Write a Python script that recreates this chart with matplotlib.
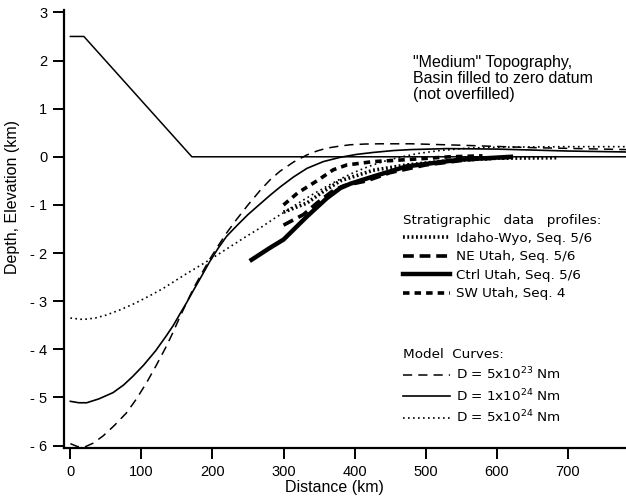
"""Flexural basin profiles vs. stratigraphic data."""

import matplotlib.pyplot as plt

# topography load (km)
topo_x = [0, 19, 171, 782]
topo_y = [2.5, 2.5, 0.0, 0.0]

# model deflection curves (distance km, depth km)
d5e23_x = [0, 10, 20, 32, 46, 62, 79, 93, 107, 121, 135, 145, 154, 164, 173,
           185, 196, 208, 220, 234, 250, 267, 281, 295, 314, 333, 347, 361,
           378, 394, 415, 436, 480, 550, 650, 782]
d5e23_y = [-5.96, -6.02, -6.03, -5.95, -5.8, -5.58, -5.32, -5.03, -4.7, -4.33,
           -3.94, -3.63, -3.33, -3.02, -2.74, -2.42, -2.13, -1.85, -1.58,
           -1.3, -1.0, -0.7, -0.48, -0.3, -0.11, 0.04, 0.12, 0.18, 0.22, 0.25,
           0.265, 0.27, 0.27, 0.24, 0.19, 0.15]

d1e24_x = [0, 12, 23, 40, 60, 75, 88, 103, 120, 135, 145, 154, 164, 173, 185,
           196, 208, 220, 235, 250, 267, 281, 295, 314, 333, 356, 380, 403,
           426, 455, 480, 530, 600, 700, 782]
d1e24_y = [-5.08, -5.11, -5.11, -5.03, -4.9, -4.74, -4.56, -4.33, -4.03,
           -3.72, -3.5, -3.27, -3.02, -2.78, -2.47, -2.18, -1.9, -1.65, -1.42,
           -1.2, -0.98, -0.8, -0.63, -0.42, -0.24, -0.1, -0.01, 0.05, 0.09,
           0.13, 0.15, 0.17, 0.16, 0.12, 0.1]

d5e24_x = [0, 18, 35, 50, 70, 90, 110, 130, 145, 160, 178, 196, 213, 230, 248,
           267, 285, 300, 320, 340, 360, 380, 400, 420, 440, 460, 490, 520,
           560, 600, 700, 782]
d5e24_y = [-3.35, -3.38, -3.35, -3.29, -3.18, -3.05, -2.9, -2.74, -2.6, -2.46,
           -2.3, -2.14, -1.98, -1.82, -1.65, -1.48, -1.3, -1.16, -0.97, -0.79,
           -0.62, -0.46, -0.32, -0.2, -0.1, -0.02, 0.07, 0.13, 0.18, 0.2, 0.21,
           0.21]

# stratigraphic data profiles
idaho_x = [300, 333, 356, 380, 426, 473, 534, 600, 685]
idaho_y = [-1.15, -0.96, -0.72, -0.5, -0.28, -0.17, -0.08, -0.03, -0.02]

ne_x = [300, 328, 347, 370, 385, 398, 417, 450, 500, 560, 620]
ne_y = [-1.42, -1.2, -0.96, -0.7, -0.6, -0.56, -0.5, -0.33, -0.17, -0.06,
        -0.01]

ctrl_x = [255, 280, 300, 333, 361, 380, 394, 426, 473, 548, 620]
ctrl_y = [-2.14, -1.9, -1.72, -1.24, -0.86, -0.65, -0.56, -0.41, -0.2, -0.06,
          0.0]

sw_x = [300, 320, 347, 370, 389, 426, 473, 534, 580]
sw_y = [-1.0, -0.75, -0.5, -0.27, -0.17, -0.1, -0.06, 0.0, 0.02]

x_ticks = [0, 100, 200, 300, 400, 500, 600, 700]
y_ticks = [-6, -5, -4, -3, -2, -1, 0, 1, 2, 3]
y_tick_labels = ["- 6", "- 5", "- 4", "- 3", "- 2", "- 1", "0", "1", "2", "3"]

TICK_FONT = "Liberation Sans"
LEGEND_FONT = "DejaVu Sans"

fig = plt.figure(figsize=(6.26, 4.99), dpi=100)
ax = fig.add_axes((0.1022, 0.1022, 0.8978, 0.8778))

ax.plot(topo_x, topo_y, color="black", lw=1.1)

(m1,) = ax.plot(d5e23_x, d5e23_y, color="black", lw=1.1, ls=(0, (6, 4)),
                label=r"D = 5x10$^{23}$ Nm")
(m2,) = ax.plot(d1e24_x, d1e24_y, color="black", lw=1.2,
                label=r"D = 1x10$^{24}$ Nm")
(m3,) = ax.plot(d5e24_x, d5e24_y, color="black", lw=1.2, ls=(0, (1, 2)),
                label=r"D = 5x10$^{24}$ Nm")

(s1,) = ax.plot(idaho_x, idaho_y, color="black", lw=2.6, ls=(0, (0.5, 0.7)),
                label="Idaho-Wyo, Seq. 5/6")
(s2,) = ax.plot(ne_x, ne_y, color="black", lw=2.6, ls=(0, (3, 1.6)),
                label="NE Utah, Seq. 5/6")
(s3,) = ax.plot(ctrl_x, ctrl_y, color="black", lw=3.2,
                label="Ctrl Utah, Seq. 5/6")
(s4,) = ax.plot(sw_x, sw_y, color="black", lw=2.6, ls=(0, (1.8, 1.4)),
                label="SW Utah, Seq. 4")

ax.set_xlim(-9, 782)
ax.set_ylim(-6.05, 3.05)

for side in ("top", "right"):
    ax.spines[side].set_visible(False)
for side in ("left", "bottom"):
    ax.spines[side].set_linewidth(1.6)

ax.set_xticks(x_ticks)
ax.set_yticks(y_ticks, labels=y_tick_labels)
ax.tick_params(direction="out", length=8, width=1.4, labelsize=10.5, pad=4)
for lab in ax.get_xticklabels() + ax.get_yticklabels():
    lab.set_fontfamily(TICK_FONT)

ax.set_xlabel("Distance (km)", fontsize=11.5, fontfamily=TICK_FONT)
ax.set_ylabel("Depth, Elevation (km)", fontsize=11.5, fontfamily=TICK_FONT)
ax.xaxis.set_label_coords(0.482, -0.072)
ax.yaxis.set_label_coords(-0.078, 0.573)

ax.text(0.621, 0.897,
        "\"Medium\" Topography,\nBasin filled to zero datum\n(not overfilled)",
        transform=ax.transAxes, ha="left", va="top", fontsize=11.5,
        fontfamily=TICK_FONT, linespacing=1.08)

leg_kw = dict(frameon=False, loc="upper left", borderaxespad=0, borderpad=0,
              handlelength=3.5, handletextpad=0.45, alignment="left",
              prop={"family": LEGEND_FONT, "size": 9.7},
              title_fontproperties={"family": LEGEND_FONT, "size": 9.7})

leg1 = ax.legend(handles=[s1, s2, s3, s4],
                 title="Stratigraphic   data   profiles:",
                 bbox_to_anchor=(0.603, 0.535), labelspacing=0.4, **leg_kw)
ax.add_artist(leg1)
ax.legend(handles=[m1, m2, m3], title="Model  Curves:",
          bbox_to_anchor=(0.603, 0.228), labelspacing=0.36, **leg_kw)

fig.savefig("out.png", dpi=100)
plt.close(fig)
